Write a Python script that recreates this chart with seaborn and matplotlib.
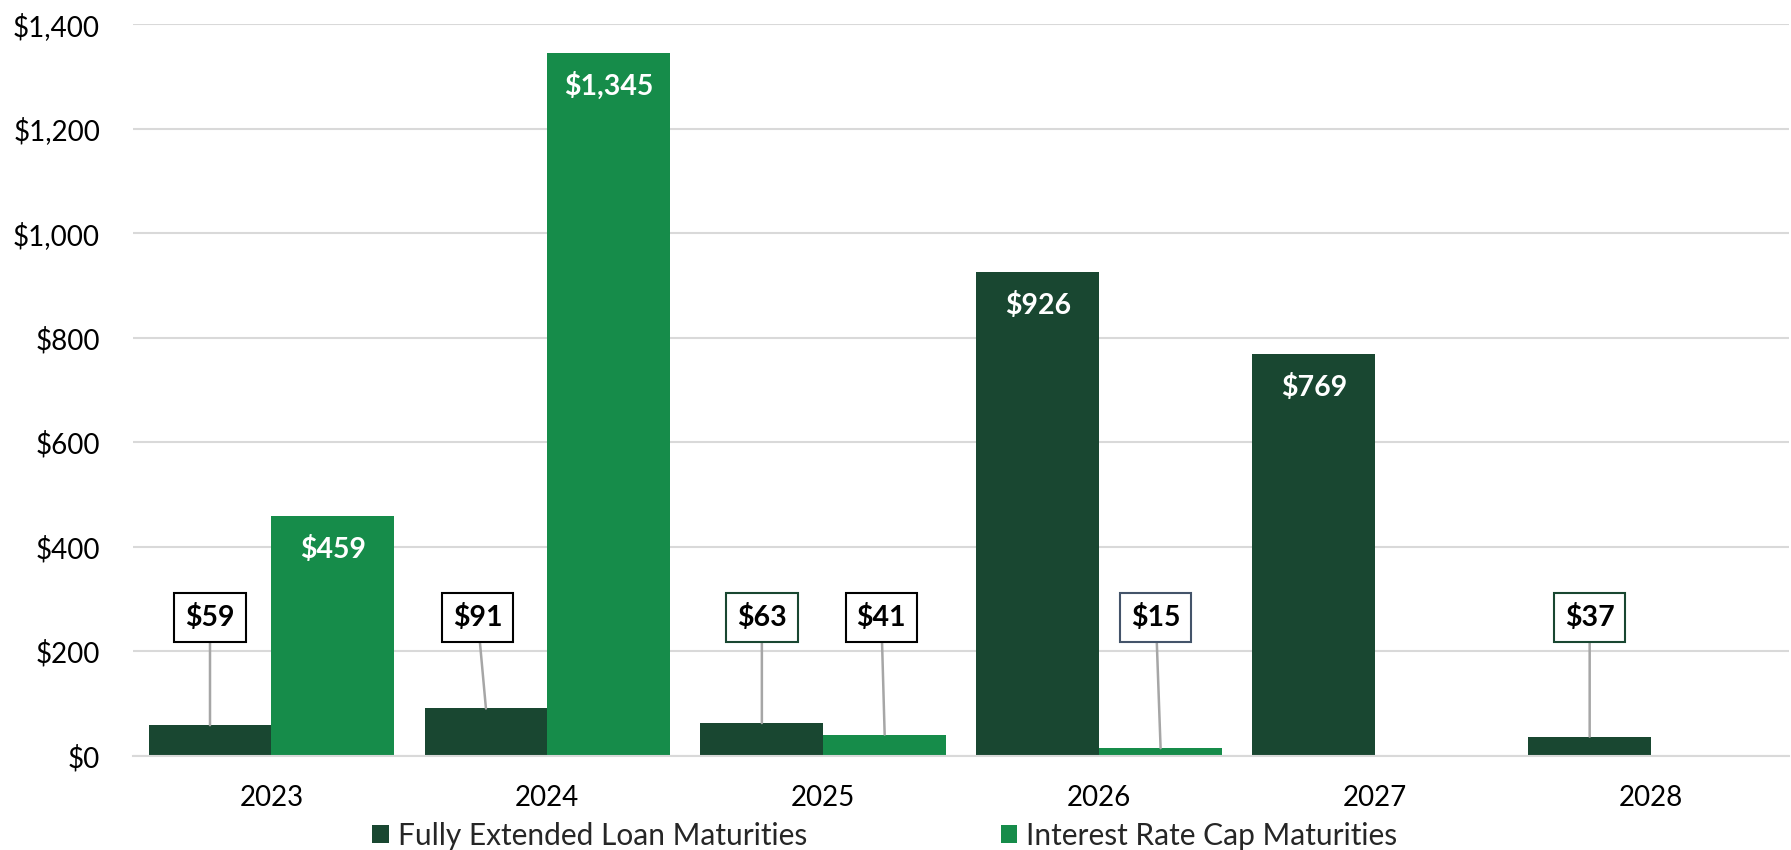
import pandas as pd
import matplotlib
matplotlib.use('Agg')
import matplotlib.pyplot as plt
import seaborn as sns

# Data
years = ['2023', '2024', '2025', '2026', '2027', '2028']
loan_maturities = [59, 91, 63, 926, 769, 37]
cap_maturities = [459, 1345, 41, 15, 0, 0]
series_names = ['Fully Extended Loan Maturities', 'Interest Rate Cap Maturities']
y_ticks = [0, 200, 400, 600, 800, 1000, 1200, 1400]

dark_green = '#194731'
green = '#168C4A'
grid_grey = '#D9D9D9'

df = pd.DataFrame({
    'year': years * 2,
    'value': loan_maturities + cap_maturities,
    'series': [series_names[0]] * len(years) + [series_names[1]] * len(years),
})

sns.set_theme(style='white')
plt.rcParams['font.family'] = ['Lato', 'DejaVu Sans']

fig = plt.figure(figsize=(17.91, 8.5), dpi=100)
ax = fig.add_axes([0.0745, 0.1106, 0.9244, 0.8606])

sns.barplot(data=df, x='year', y='value', hue='series', order=years,
            hue_order=series_names, palette=[dark_green, green],
            width=0.89, gap=0, saturation=1, errorbar=None, ax=ax,
            linewidth=0, legend=True)

ax.set_ylim(0, 1400)
ax.set_xlim(-0.5, len(years) - 0.5)
ax.set_yticks(y_ticks)
ax.set_yticklabels([f'${v:,}' for v in y_ticks])
ax.yaxis.grid(True, color=grid_grey, linewidth=1.5)
ax.set_axisbelow(True)
ax.set_xlabel('')
ax.set_ylabel('')
for side in ['left', 'right', 'top']:
    ax.spines[side].set_visible(False)
ax.spines['bottom'].set_color(grid_grey)
ax.spines['bottom'].set_linewidth(1.5)

ax.tick_params(axis='y', length=0, pad=24, labelsize=20, labelcolor='black')
ax.tick_params(axis='x', which='major', length=0, pad=21, labelsize=20, labelcolor='black')
ax.set_xticks([i - 0.5 for i in range(len(years) + 1)], minor=True)
ax.tick_params(axis='x', which='minor', length=8, width=1.5, color=grid_grey)

# Data labels: inside bars for large values, boxed callouts for small ones
callout_edges = {
    (0, 0): 'black', (0, 1): 'black', (0, 2): dark_green, (0, 5): dark_green,
    (1, 2): 'black', (1, 3): '#44546A',
}
callout_dx = {(0, 1): -0.03, (1, 2): -0.012, (1, 3): -0.017}
callout_y = 265

series_values = [loan_maturities, cap_maturities]
for s, container in enumerate(ax.containers):
    for i, bar in enumerate(container):
        v = series_values[s][i]
        if v <= 0:
            continue
        cx = bar.get_x() + bar.get_width() / 2
        label = f'${v:,}'
        if v > 300:
            ax.annotate(label, xy=(cx, v), xytext=(0, -33), textcoords='offset pixels',
                        ha='center', va='center', color='white', fontsize=20.5,
                        fontweight='bold')
        else:
            ax.annotate(label, xy=(cx, v), xytext=(cx + callout_dx.get((s, i), 0), callout_y),
                        ha='center', va='center', color='black', fontsize=20.5,
                        fontweight='bold',
                        bbox=dict(boxstyle='square,pad=0.38', facecolor='white',
                                  edgecolor=callout_edges[(s, i)], linewidth=1.5),
                        arrowprops=dict(arrowstyle='-', color='#A6A6A6', lw=1.8,
                                        shrinkA=0, shrinkB=0))

# Legend below the plot
handles, labels = ax.get_legend_handles_labels()
ax.get_legend().remove()
fig.legend(handles, labels, loc='center', bbox_to_anchor=(0.494, 0.017), ncol=2,
           frameon=False, fontsize=21.5, handlelength=0.55, handleheight=0.55,
           handletextpad=0.3, columnspacing=6.5, borderaxespad=0)

plt.savefig('out.png', dpi=100)
